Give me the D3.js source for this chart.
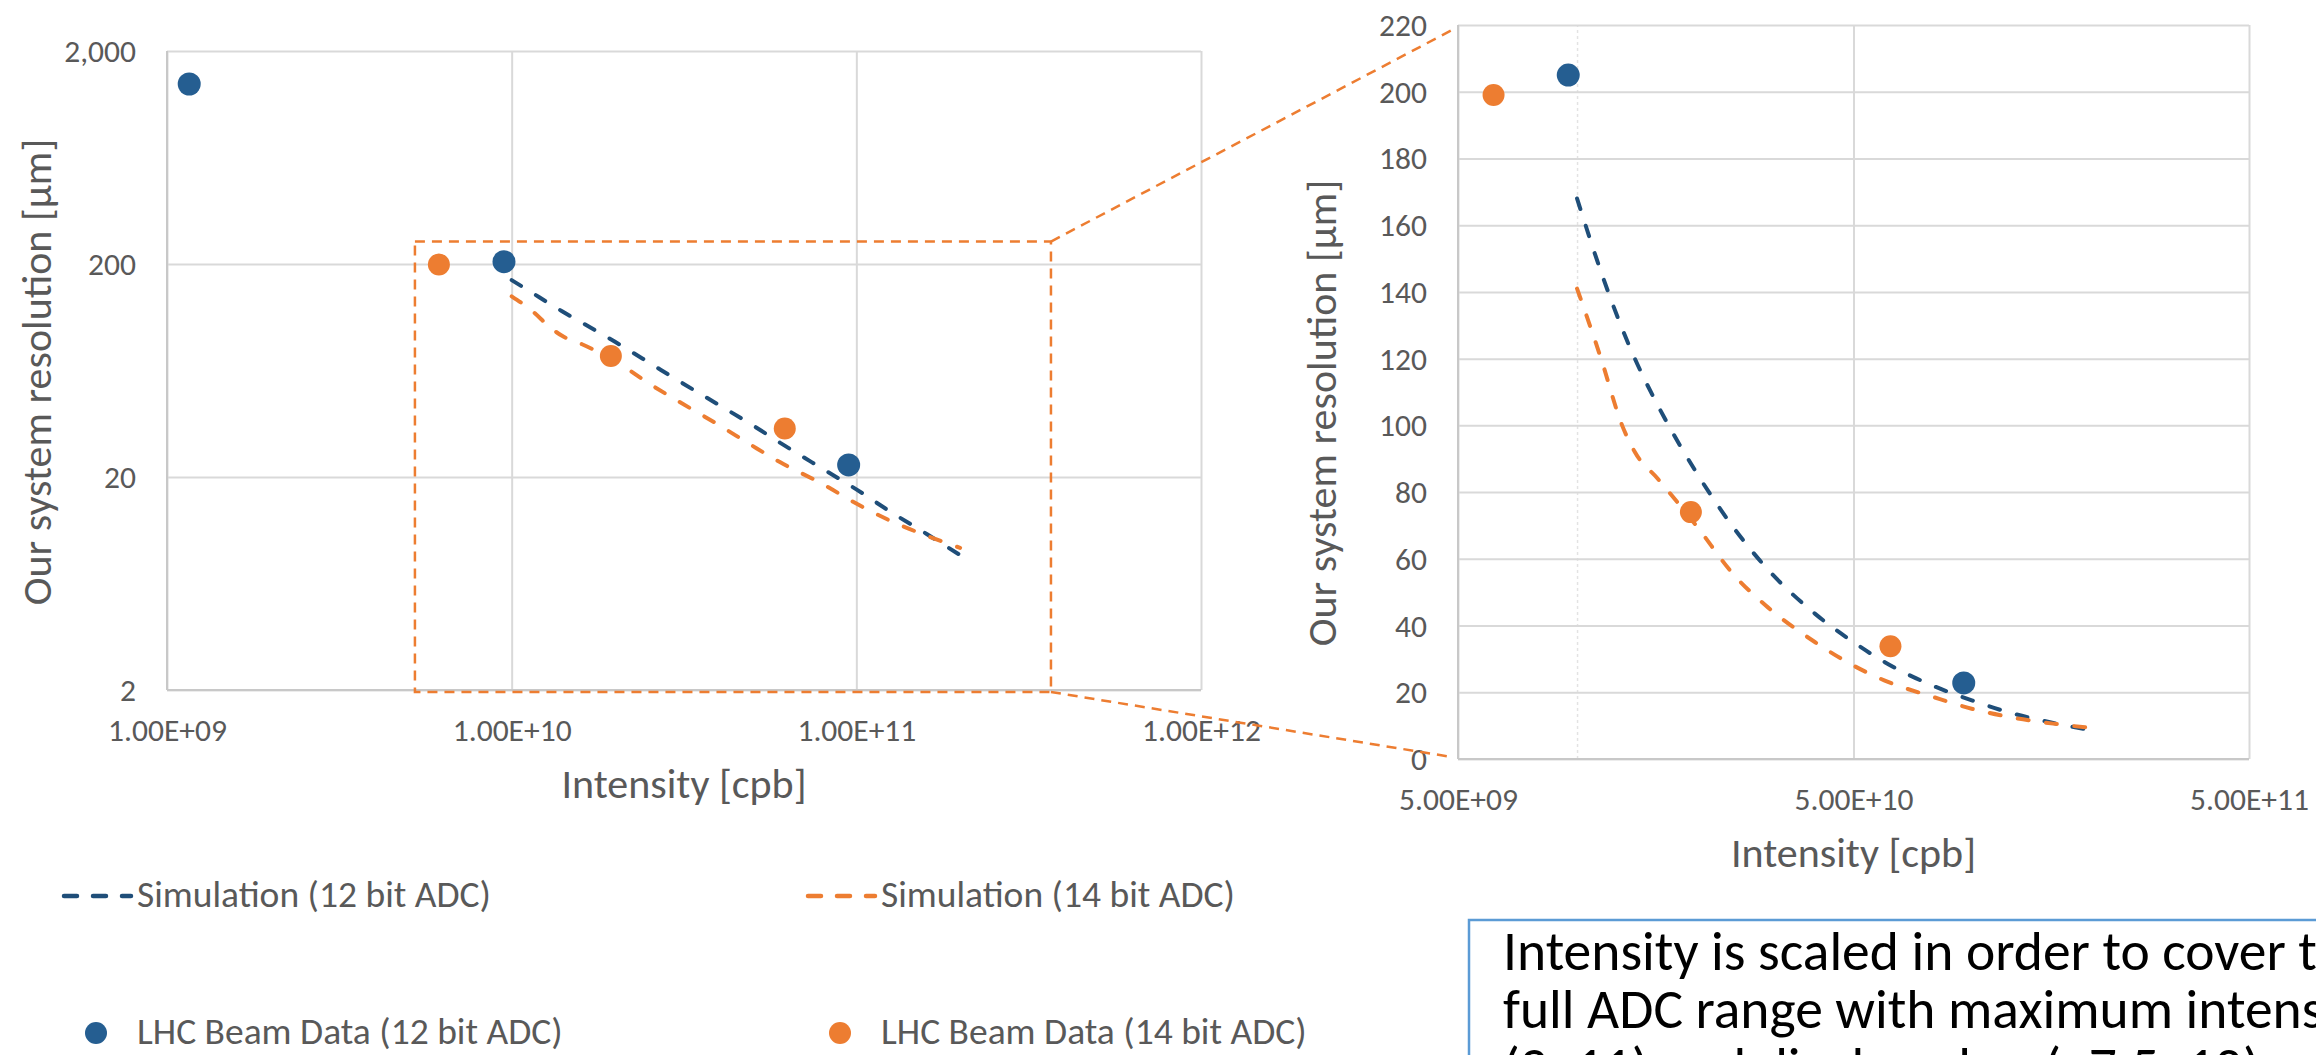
<!DOCTYPE html>
<html><head><meta charset="utf-8">
<script src="https://cdn.jsdelivr.net/npm/d3@7"></script>
<style>body{margin:0;background:#fff;overflow:hidden;} svg{display:block;}</style>
</head><body><svg id="c" width="2316" height="1055"></svg>
<script>
// ---------------- data ----------------
const simX  = [1.0e10, 1.15e10, 1.3e10, 1.4e10, 1.6e10, 2.0e10, 2.5e10, 3.0e10, 4.0e10, 5.0e10, 6.0e10, 8.0e10, 1.0e11, 1.25e11, 1.6e11, 2.0e11];
const sim12 = [168, 146, 129, 120, 106, 86, 69, 57.5, 43.5, 35, 29, 21.8, 17.5, 13.8, 10.8, 8.6];
const sim14 = [141, 120, 100, 92, 84, 70, 55, 46, 35, 28, 23.5, 18.5, 15, 12.5, 10.6, 9.3];
const lhc12X = [1.16e9, 9.5e9, 9.5e10];
const lhc12Y = [1400, 205, 22.8];
const lhc14X = [6.15e9, 1.94e10, 6.2e10];
const lhc14Y = [199, 74, 33.8];
const leftXTicks  = [1e9, 1e10, 1e11, 1e12];
const leftYTicks  = [2, 20, 200, 2000];
const rightXTicks = [5e9, 5e10, 5e11];
const rightXMinor = [1e10];
const rightYTicks = [0, 20, 40, 60, 80, 100, 120, 140, 160, 180, 200, 220];
const seriesNames = ["Simulation (12 bit ADC)", "Simulation (14 bit ADC)", "LHC Beam Data (12 bit ADC)", "LHC Beam Data (14 bit ADC)"];
const xTitle = "Intensity [cpb]";
const yTitle = "Our system resolution [µm]";
const zoomBoxX = [5.24e9, 3.67e11];
const zoomBoxY = [2, 255];
const noteLines = ["Intensity is scaled in order to cover the", "full ADC range with maximum intensity", "(2e11) and displayed as (~7.5e10)"];

// ---------------- style ----------------
const C = {blue:"#255E91", orange:"#ED7D31", blueLine:"#1F4E79", grid:"#D9D9D9", text:"#595959"};
const FONT = "Carlito, Lato, sans-serif";

const svg = d3.select("#c");
svg.append("rect").attr("width",2316).attr("height",1055).attr("fill","#fff");

const sci = v => {
  const e = Math.floor(Math.log10(v) + 1e-9);
  const m = v / Math.pow(10, e);
  return m.toFixed(2) + "E" + (e >= 0 ? "+" : "-") + String(Math.abs(e)).padStart(2, "0");
};

function drawChart(g, P, xs, ys, xTicks, yTicks, yFmt, opts) {
  const W = P.x1 - P.x0, H = P.y1 - P.y0;
  // grid
  g.append("g").attr("transform",`translate(0,${P.y1})`)
    .call(d3.axisBottom(xs).tickValues(xTicks).tickSize(-H).tickFormat(""))
    .call(a => { a.select(".domain").remove(); a.selectAll("text").remove(); a.selectAll("line").attr("stroke",C.grid).attr("stroke-width",2); });
  if (opts.minor) {
    g.append("g").attr("transform",`translate(0,${P.y1})`)
      .call(d3.axisBottom(xs).tickValues(opts.minor).tickSize(-H).tickFormat(""))
      .call(a => { a.select(".domain").remove(); a.selectAll("text").remove(); a.selectAll("line").attr("stroke","#E3E3E3").attr("stroke-width",1.5).attr("stroke-dasharray","3,3"); });
  }
  g.append("g").attr("transform",`translate(${P.x0},0)`)
    .call(d3.axisLeft(ys).tickValues(yTicks).tickSize(-W).tickFormat(""))
    .call(a => { a.select(".domain").remove(); a.selectAll("text").remove(); a.selectAll("line").attr("stroke",C.grid).attr("stroke-width",2); });
  // axis lines
  g.append("line").attr("x1",P.x0).attr("x2",P.x1).attr("y1",P.y1).attr("y2",P.y1).attr("stroke","#C8C8C8").attr("stroke-width",2);
  g.append("line").attr("x1",P.x0).attr("x2",P.x0).attr("y1",P.y0).attr("y2",P.y1).attr("stroke","#C8C8C8").attr("stroke-width",2);
  // tick labels
  g.append("g").attr("transform",`translate(0,${P.y1 + 51})`)
    .call(d3.axisBottom(xs).tickValues(xTicks).tickSize(0).tickPadding(0).tickFormat(sci))
    .call(a => { a.select(".domain").remove(); a.selectAll("line").remove();
      a.selectAll("text").attr("fill",C.text).attr("font-family",FONT).attr("font-size",31.5).attr("dy",null).attr("y",0); });
  g.append("g").attr("transform",`translate(${P.x0 - 31},0)`)
    .call(d3.axisLeft(ys).tickValues(yTicks).tickSize(0).tickPadding(0).tickFormat(yFmt))
    .call(a => { a.select(".domain").remove(); a.selectAll("line").remove();
      a.selectAll("text").attr("fill",C.text).attr("font-family",FONT).attr("font-size",31.5).attr("dy",null).attr("y",10.5).attr("x",0); });
  // titles
  g.append("text").attr("x",(P.x0+P.x1)/2).attr("y",P.y1+108).attr("text-anchor","middle")
    .attr("fill",C.text).attr("font-family",FONT).attr("font-size",42).text(xTitle);
  g.append("text").attr("transform",`translate(${opts.ytx},${opts.yty}) rotate(-90)`).attr("text-anchor","middle")
    .attr("dy","0.35em").attr("fill",C.text).attr("font-family",FONT).attr("font-size",42).text(yTitle);
  // sim lines
  const line = d3.line().x(d => xs(d[0])).y(d => ys(d[1])).curve(d3.curveMonotoneX);
  g.append("path").datum(d3.zip(simX, sim12)).attr("d",line).attr("fill","none")
    .attr("stroke",C.blueLine).attr("stroke-width",4).attr("stroke-dasharray","11,17.5").attr("stroke-linecap","round");
  g.append("path").datum(d3.zip(simX, sim14)).attr("d",line).attr("fill","none")
    .attr("stroke",C.orange).attr("stroke-width",4).attr("stroke-dasharray","11,17.5").attr("stroke-linecap","round");
  // markers
  const inX = v => v >= xs.domain()[0] && v <= xs.domain()[1];
  const inY = v => v >= ys.domain()[0] && v <= ys.domain()[1];
  g.append("g").selectAll("circle").data(d3.zip(lhc12X, lhc12Y).filter(d => inX(d[0]) && inY(d[1]))).join("circle")
    .attr("cx",d => xs(d[0])).attr("cy",d => ys(d[1])).attr("r",11.5).attr("fill",C.blue);
  g.append("g").selectAll("circle").data(d3.zip(lhc14X, lhc14Y).filter(d => inX(d[0]) && inY(d[1]))).join("circle")
    .attr("cx",d => xs(d[0])).attr("cy",d => ys(d[1])).attr("r",11).attr("fill",C.orange);
}

// left chart
const PL = {x0:167, x1:1201, y0:51, y1:690};
const xL = d3.scaleLog().domain([1e9, 1e12]).range([PL.x0, PL.x1]);
const yL = d3.scaleLog().domain([2, 2000]).range([PL.y1, PL.y0]);
drawChart(svg.append("g"), PL, xL, yL, leftXTicks, leftYTicks, d3.format(","), {ytx:36, yty:372});

// right chart
const PR = {x0:1458, x1:2249, y0:25, y1:759};
const xR = d3.scaleLog().domain([5e9, 5e11]).range([PR.x0, PR.x1]);
const yR = d3.scaleLinear().domain([0, 220]).range([PR.y1, PR.y0]);
drawChart(svg.append("g"), PR, xR, yR, rightXTicks, rightYTicks, d3.format("d"), {ytx:1321, yty:413, minor:rightXMinor});

// zoom box annotation
const bx0 = xL(zoomBoxX[0]), bx1 = xL(zoomBoxX[1]), by0 = yL(zoomBoxY[1]), by1 = yL(zoomBoxY[0]) + 2;
const ann = svg.append("g").attr("fill","none").attr("stroke",C.orange).attr("stroke-width",2.5).attr("stroke-dasharray","10,7");
ann.append("rect").attr("x",bx0).attr("y",by0).attr("width",bx1-bx0).attr("height",by1-by0);
ann.append("line").attr("x1",bx1).attr("y1",by0).attr("x2",PR.x0-6).attr("y2",PR.y0+5);
ann.append("line").attr("x1",bx1).attr("y1",by1).attr("x2",PR.x0-6).attr("y2",PR.y1-2);

// legend
const lg = svg.append("g").attr("font-family",FONT).attr("font-size",37.5).attr("fill",C.text);
const legendItems = [
  {x:62,  y:907,  type:"line", color:C.blueLine, name:seriesNames[0]},
  {x:806, y:907,  type:"line", color:C.orange,   name:seriesNames[1]},
  {x:62,  y:1044, type:"dot",  color:C.blue,     name:seriesNames[2]},
  {x:806, y:1044, type:"dot",  color:C.orange,   name:seriesNames[3]}
];
legendItems.forEach(it => {
  if (it.type === "line") {
    lg.append("line").attr("x1",it.x+2).attr("x2",it.x+69).attr("y1",it.y-11).attr("y2",it.y-11)
      .attr("stroke",it.color).attr("stroke-width",4.5).attr("stroke-dasharray","13,16").attr("stroke-linecap","round");
  } else {
    lg.append("circle").attr("cx",it.x+34).attr("cy",it.y-11).attr("r",11).attr("fill",it.color);
  }
  lg.append("text").attr("x",it.x+75).attr("y",it.y).text(it.name);
});

// note box
const nb = svg.append("g");
nb.append("rect").attr("x",1469).attr("y",920).attr("width",1000).attr("height",300)
  .attr("fill","#fff").attr("stroke","#5B9BD5").attr("stroke-width",2.5);
nb.selectAll("text").data(noteLines).join("text")
  .attr("x",1503).attr("y",(d,i) => 970 + i*58).attr("font-family",FONT).attr("font-size",55.5).attr("fill","#000").text(d => d);
</script>
</body></html>
